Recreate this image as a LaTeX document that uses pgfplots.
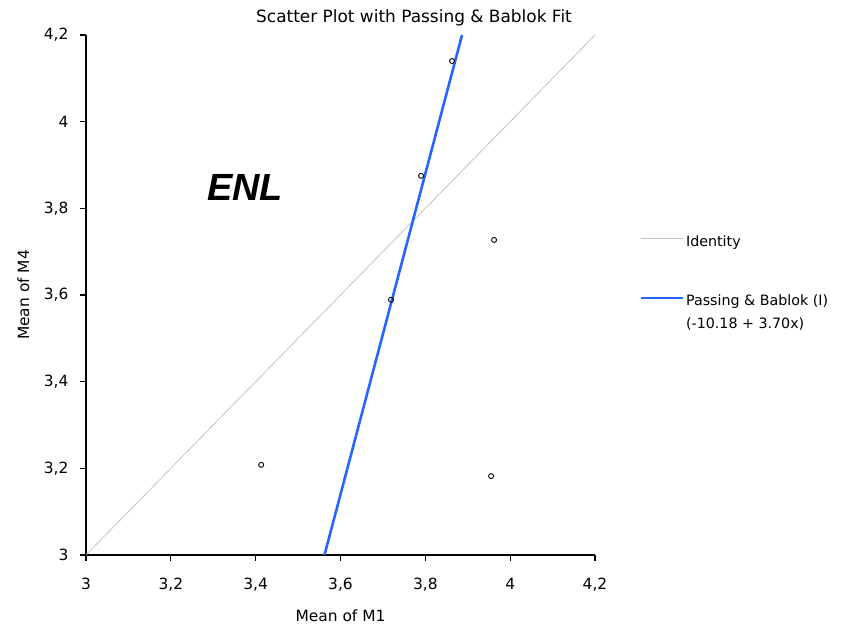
\documentclass[border=0pt]{standalone}
\usepackage{fontspec}
\setmainfont{DejaVu Sans}
\newfontfamily\arialfont{Liberation Sans}
\usepackage{pgfplots}
\pgfplotsset{compat=1.18}
\definecolor{pbblue}{RGB}{40,100,255}
\definecolor{idgray}{RGB}{195,195,195}
\begin{document}
\begin{tikzpicture}[x=1bp,y=1bp]
\path[use as bounding box] (0,0) rectangle (846,626);
\begin{axis}[
  at={(86bp,71bp)}, anchor=south west,
  scale only axis, width=509bp, height=520bp,
  xmin=3, xmax=4.2, ymin=3, ymax=4.2,
  clip mode=individual,
  axis x line*=bottom, axis y line*=left,
  axis line style={black, line width=1.5bp},
  xtick={3,3.2,3.4,3.6,3.8,4,4.2},
  ytick={3,3.2,3.4,3.6,3.8,4,4.2},
  /pgf/number format/assume math mode=true,
  /pgf/number format/use comma,
  /pgf/number format/fixed,
  /pgf/number format/precision=1,
  tick align=outside, major tick length=6bp,
  tick style={black, line width=1.2bp},
  ticklabel style={font=\fontsize{15.5}{18}\selectfont},
  yticklabel style={xshift=-8bp},
  xticklabel style={yshift=-14bp},
  xlabel={Mean of M1},
  xlabel style={at={(axis description cs:0.5,-0.117)}, anchor=center, font=\fontsize{15.5}{18}\selectfont},
  ylabel={Mean of M4},
  ylabel style={at={(axis description cs:-0.123,0.5)}, anchor=center, rotate=0, font=\fontsize{15.5}{18}\selectfont},
  legend style={at={(axis description cs:1.088,0.617)}, anchor=north west, draw=none, fill=none,
    inner sep=0pt, row sep=44bp, font=\fontsize{14.3}{16}\selectfont,
    nodes={inner sep=1.5bp}},
  legend cell align=left,
]
\addplot[idgray, line width=0.8bp, legend image code/.code={\draw[idgray, line width=1bp] (0bp,0.33em) -- (42bp,0.33em);}] coordinates {(3,3) (4.2,4.2)};
\addlegendentry{Identity}
\addplot[pbblue, line width=2.6bp, legend image code/.code={\draw[pbblue, line width=2.6bp] (0bp,0.33em) -- (42bp,0.33em);}] coordinates {(3.5622,3) (3.8865,4.2)};
\addlegendentry{\vtop{\baselineskip=23bp\hbox{Passing \& Bablok (I)}\hbox{(-10.18 + 3.70x)}}}
\addplot[only marks, mark=o, mark size=2.5bp, mark options={black, line width=0.9bp, fill=white}, forget plot] coordinates {
(3.413,3.208) (3.719,3.589) (3.790,3.875) (3.863,4.140) (3.962,3.727) (3.955,3.182)};
\node[font=\arialfont\fontsize{38}{42}\selectfont\bfseries\itshape] at (axis cs:3.375,3.849) {ENL};
\end{axis}
\node[anchor=base, font=\fontsize{17}{20}\selectfont] at (414,603) {Scatter Plot with Passing \& Bablok Fit};
\end{tikzpicture}
\end{document}
